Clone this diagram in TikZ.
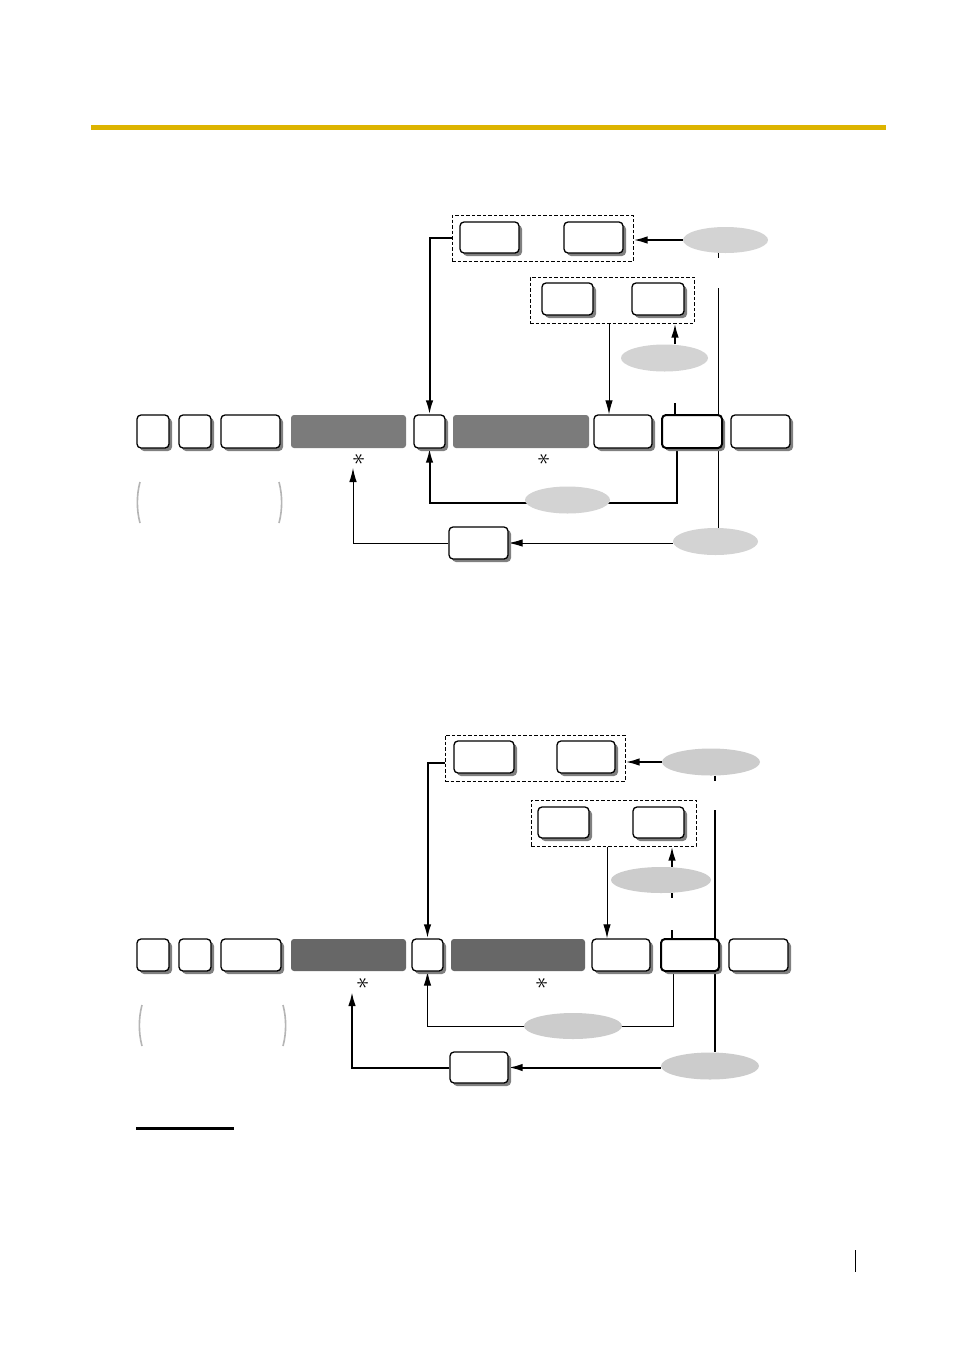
\documentclass[tikz,border=0pt]{standalone}
\usetikzlibrary{shapes.geometric,arrows.meta,shadows}
\pgfdeclarelayer{background}
\pgfdeclarelayer{paper}
\pgfsetlayers{paper,background,main}
\definecolor{gold}{HTML}{DDB400}
\definecolor{darkA}{HTML}{7B7B7B}
\definecolor{darkB}{HTML}{676767}
\definecolor{ellA}{HTML}{D3D3D3}
\definecolor{ellB}{HTML}{CCCCCC}
\definecolor{parcol}{HTML}{B5B5B5}
\newcommand\K[6][]{\node[keyst,#1,minimum width={(#5-#3)*1pt},minimum height={(#6-#4)*1pt}] (#2) at ({(#3+#5)/2},{(#4+#6)/2}) {};}
\newcommand\Dk[6][]{\node[dk,#1,minimum width={(#5-#3)*1pt},minimum height={(#6-#4)*1pt}] (#2) at ({(#3+#5)/2},{(#4+#6)/2}) {};}
\newcommand\Db[5]{\node[dbox,minimum width={(#4-#2)*1pt},minimum height={(#5-#3)*1pt}] (#1) at ({(#2+#4)/2},{(#3+#5)/2}) {};}
\newcommand\El[6][ellA]{\node[ell,fill=#1,minimum width={2*#5*1pt},minimum height={2*#6*1pt}] (#2) at (#3,#4) {};}
\begin{document}
\begin{tikzpicture}[x=1pt,y=-1pt,
  keyst/.style={draw=black,line width=1.3pt,fill=white,rounded corners=4pt,inner sep=0pt,
    drop shadow={shadow xshift=3pt,shadow yshift=-3pt,fill=black!50,opacity=1}},
  keythick/.style={line width=2pt},
  dk/.style={fill=darkA,rounded corners=3pt,inner sep=0pt},
  dbox/.style={draw=black,line width=1pt,dash pattern=on 3.5pt off 2pt,inner sep=0pt},
  ell/.style={ellipse,inner sep=0pt,draw=none},
  thn/.style={line width=1pt},
  thk/.style={line width=2pt},
  arr/.style={-{Latex[length=14pt,width=7.5pt]}},
  paren/.style={draw=parcol,line width=1.6pt},
  astr/.style={rotate=90,inner sep=0pt,font=\fontsize{25}{25}\selectfont}]
\useasboundingbox (0,0) rectangle (954,1350);
\begin{pgfonlayer}{paper}
\fill[white] (0,0) rectangle (954,1350);
\end{pgfonlayer}
% header bar
\fill[gold] (91,125) rectangle (886,130);

% ================= TOP DIAGRAM =================
\Db{tdbA}{452}{215}{633}{261}
\K{ta}{460}{222}{519}{253}
\K{tb}{564}{222}{623}{253}
\Db{tdbB}{530}{277}{694}{323}
\K{tc}{542}{283}{593}{315}
\K{td}{632}{283}{684}{315}
\K{tr1}{137}{415}{169}{448}
\K{tr2}{179}{415}{211}{448}
\K{tr3}{221}{415}{280}{448}
\Dk{tdk1}{291}{415}{406}{448}
\K{tr4}{414}{415}{445}{448}
\Dk{tdk2}{453}{415}{589}{448}
\K{tr5}{594}{415}{652}{448}
\K[keythick]{tr6}{662}{415}{722}{448}
\K{tr7}{731}{415}{790}{448}
\K{tB}{449}{527}{508}{559}
\El{te1}{725.5}{240}{42.5}{13}
\El{te2}{664.5}{358}{43.5}{13.5}
\El{te3}{567.5}{500}{42.5}{13.5}
\El{te4}{715.5}{541.5}{42.5}{13.5}
\node[astr] (tas1) at (359,459) {$\ast$};
\node[astr] (tas2) at (544,459) {$\ast$};
\coordinate (tv) at (718,288);
\coordinate (tx2) at (675,403);
\coordinate (tx3) at (609,330);
\coordinate (tl) at (677,503);
\coordinate (ta1) at (353,468);
\draw[paren] (140,482) .. controls (136.5,495) and (136.5,510) .. (140,523);
\draw[paren] (279,482) .. controls (282.5,495) and (282.5,510) .. (279,523);
\begin{pgfonlayer}{background}
\draw[thk,arr] (tdbA.west) -- (tdbA.west -| tr4.north) -- (tr4.north);
\draw[thk,arr] (te1.west) -- (te1.west -| tdbA.east);
\draw[thn] (tv |- te1.south) -- ++(0,5);
\draw[thn] (tv) -- (tv |- te4.north);
\draw[thk,arr] (tx2 |- te2.north) -- (tx2 |- tdbB.south);
\draw[thk] (tx2) -- (tx2 |- tr6.north);
\draw[thn,arr] (tx3 |- tdbB.south) -- (tx3 |- tr5.north);
\draw[thk,arr] (tl |- tr6.south) -- (tl) -- (tl -| tr4.south) -- (tr4.south);
\draw[thn,arr] (tB.east -| te4.west) -- (tB.east);
\draw[thn,arr] (tB.west) -- (tB.west -| ta1) -- (ta1);
\end{pgfonlayer}

% ================= BOTTOM DIAGRAM =================
\Db{bdbA}{445}{735}{625}{781}
\K{ba}{454}{741}{514}{773}
\K{bb}{557}{741}{615}{773}
\Db{bdbB}{531}{800}{696}{846}
\K{bc}{538}{807}{589}{838}
\K{bd}{633}{807}{684}{838}
\K{br1}{137}{939}{169}{971}
\K{br2}{179}{939}{211}{971}
\K{br3}{221}{939}{281}{971}
\Dk[fill=darkB]{bdk1}{291}{939}{406}{971}
\K{br4}{412}{939}{443}{971}
\Dk[fill=darkB]{bdk2}{451}{939}{585}{971}
\K{br5}{592}{939}{650}{971}
\K[keythick]{br6}{661}{939}{719}{971}
\K{br7}{729}{939}{788}{971}
\K{bB}{450}{1052}{508}{1083}
\El[ellB]{be1}{711}{762}{49}{13.5}
\El[ellB]{be2}{661}{880}{50}{13}
\El[ellB]{be3}{573}{1026}{49}{13}
\El[ellB]{be4}{710}{1066}{49}{13.5}
\node[astr] (bas1) at (363,983) {$\ast$};
\node[astr] (bas2) at (542,983) {$\ast$};
\coordinate (bv) at (715,810);
\coordinate (bx2) at (672,930);
\coordinate (bx3) at (607,850);
\coordinate (bl) at (673,1026);
\coordinate (ba1) at (352,992);
\coordinate (bdw) at (445,763);
\draw[paren] (142,1005) .. controls (138.5,1018) and (138.5,1033) .. (142,1046);
\draw[paren] (283,1005) .. controls (286.5,1018) and (286.5,1033) .. (283,1046);
\begin{pgfonlayer}{background}
\draw[thk,arr] (bdw) -- (bdw -| br4.north) -- (br4.north);
\draw[thk,arr] (be1.west) -- (be1.west -| bdbA.east);
\draw[thk] (bv |- be1.south) -- ++(0,5);
\draw[thk] (bv) -- (bv |- be4.north);
\draw[thk,arr] (bx2 |- be2.north) -- (bx2 |- bdbB.south);
\draw[thk] (bx2 |- be2.south) -- ++(0,5);
\draw[thk] (bx2) -- (bx2 |- br6.north);
\draw[thn,arr] (bx3 |- bdbB.south) -- (bx3 |- br5.north);
\draw[thn,arr] (bl |- br6.south) -- (bl) -- (bl -| br4.south) -- (br4.south);
\draw[thk,arr] (bB.east -| be4.west) -- (bB.east);
\draw[thk,arr] (bB.west) -- (bB.west -| ba1) -- (ba1);
\end{pgfonlayer}

% footer
\draw[line width=3pt] (136,1128) -- (234,1128);
\draw[line width=1pt] (855,1250) -- (855,1272);
\end{tikzpicture}
\end{document}
